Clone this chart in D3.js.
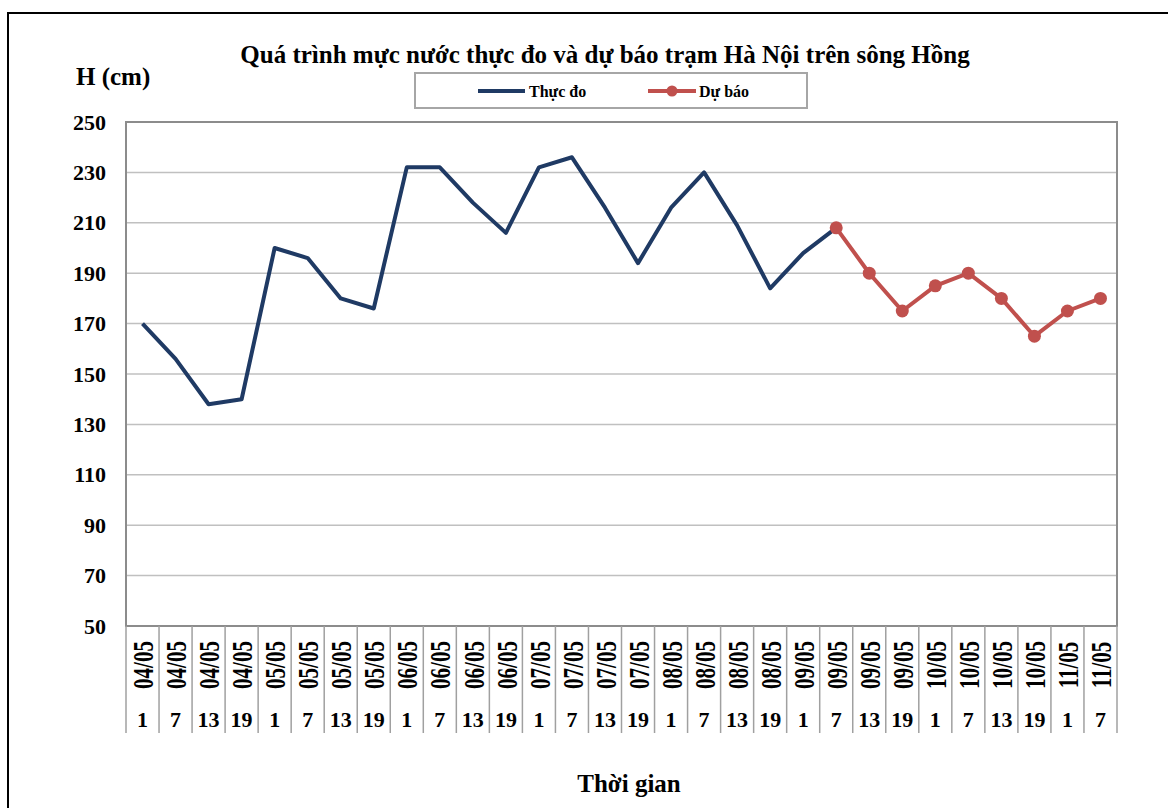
<!DOCTYPE html>
<html>
<head>
<meta charset="utf-8">
<script src="https://cdn.jsdelivr.net/npm/d3@7"></script>
<style>
  body { margin: 0; background: #fff; }
  text { font-family: "Times New Roman", "Liberation Serif", serif; font-weight: bold; fill: #000; }
</style>
</head>
<body>
<svg></svg>
<script>
const width = 1168;
const height = 808;

// data
const dates = ["04/05","04/05","04/05","04/05","05/05","05/05","05/05","05/05",
  "06/05","06/05","06/05","06/05","07/05","07/05","07/05","07/05",
  "08/05","08/05","08/05","08/05","09/05","09/05","09/05","09/05",
  "10/05","10/05","10/05","10/05","11/05","11/05"];
const hours = [1,7,13,19,1,7,13,19,1,7,13,19,1,7,13,19,1,7,13,19,1,7,13,19,1,7,13,19,1,7];
const observed = [170,156,138,140,200,196,180,176,232,232,218,206,232,236,216,194,216,230,209,184,198,208];
const forecastStart = 21;
const forecast = [208,190,175,185,190,180,165,175,180];
const yTicks = [50,70,90,110,130,150,170,190,210,230,250];

const svg = d3.select("svg")
  .attr("width", width)
  .attr("height", height);

// outer frame
svg.append("rect")
  .attr("x", 8).attr("y", 13)
  .attr("width", 1200).attr("height", 900)
  .attr("fill", "none")
  .attr("stroke", "#000")
  .attr("stroke-width", 2);

const x = d3.scaleBand()
  .domain(d3.range(dates.length))
  .range([126, 1117]);

const y = d3.scaleLinear()
  .domain([50, 250])
  .range([626, 122]);

const cx = i => x(i) + x.bandwidth() / 2;

// gridlines
svg.append("g")
  .selectAll("line")
  .data(yTicks.slice(1, -1))
  .enter().append("line")
  .attr("x1", 126).attr("x2", 1117)
  .attr("y1", d => y(d)).attr("y2", d => y(d))
  .attr("stroke", "#c0c0c0")
  .attr("stroke-width", 1.5);

// plot border
svg.append("rect")
  .attr("x", 126).attr("y", 122)
  .attr("width", 1117 - 126).attr("height", 626 - 122)
  .attr("fill", "none")
  .attr("stroke", "#8c8c8c")
  .attr("stroke-width", 2);

// y axis labels
const yAxis = svg.append("g")
  .attr("transform", "translate(126,0)")
  .call(d3.axisLeft(y).tickValues(yTicks).tickSize(0).tickPadding(20));
yAxis.select(".domain").remove();
yAxis.selectAll("text")
  .attr("font-size", 22)
  .attr("font-family", null);

// x category table
const sep = svg.append("g");
sep.selectAll("line")
  .data(d3.range(dates.length + 1))
  .enter().append("line")
  .attr("x1", d => 126 + d * x.step())
  .attr("x2", d => 126 + d * x.step())
  .attr("y1", 626).attr("y2", 733)
  .attr("stroke", "#a0a0a0")
  .attr("stroke-width", 1.5);

svg.append("g")
  .selectAll("text")
  .data(dates)
  .enter().append("text")
  .attr("transform", (d, i) => "translate(" + cx(i) + ",665) rotate(-90) scale(1,1.45)")
  .attr("text-anchor", "middle")
  .attr("dy", "0.35em")
  .attr("font-size", 21)
  .text(d => d);

svg.append("g")
  .selectAll("text")
  .data(hours)
  .enter().append("text")
  .attr("x", (d, i) => cx(i))
  .attr("y", 727)
  .attr("text-anchor", "middle")
  .attr("font-size", 22)
  .text(d => d);

// series
const line = d3.line()
  .x(d => cx(d.i))
  .y(d => y(d.v));

const obsPts = observed.map((v, i) => ({ i: i, v: v }));
const fcPts = forecast.map((v, i) => ({ i: i + forecastStart, v: v }));

svg.append("path")
  .datum(obsPts)
  .attr("d", line)
  .attr("fill", "none")
  .attr("stroke", "#1f3a64")
  .attr("stroke-width", 4)
  .attr("stroke-linejoin", "round");

svg.append("path")
  .datum(fcPts)
  .attr("d", line)
  .attr("fill", "none")
  .attr("stroke", "#c0504d")
  .attr("stroke-width", 4)
  .attr("stroke-linejoin", "round");

svg.append("g")
  .selectAll("circle")
  .data(fcPts)
  .enter().append("circle")
  .attr("cx", d => cx(d.i))
  .attr("cy", d => y(d.v))
  .attr("r", 6.5)
  .attr("fill", "#c0504d");

// titles
svg.append("text")
  .attr("x", 605).attr("y", 63)
  .attr("text-anchor", "middle")
  .attr("font-size", 25)
  .text("Quá trình mực nước thực đo và dự báo trạm Hà Nội trên sông Hồng");

svg.append("text")
  .attr("x", 76).attr("y", 85)
  .attr("font-size", 25)
  .text("H (cm)");

svg.append("text")
  .attr("x", 629).attr("y", 792)
  .attr("text-anchor", "middle")
  .attr("font-size", 25)
  .text("Thời gian");

// legend
const lg = svg.append("g");
lg.append("rect")
  .attr("x", 415).attr("y", 73)
  .attr("width", 392).attr("height", 35)
  .attr("fill", "#fff")
  .attr("stroke", "#a6a6a6")
  .attr("stroke-width", 2);
lg.append("line")
  .attr("x1", 478).attr("x2", 525).attr("y1", 91).attr("y2", 91)
  .attr("stroke", "#1f3a64").attr("stroke-width", 4);
lg.append("text")
  .attr("x", 529).attr("y", 97)
  .attr("font-size", 16)
  .text("Thực đo");
lg.append("line")
  .attr("x1", 648).attr("x2", 696).attr("y1", 91).attr("y2", 91)
  .attr("stroke", "#c0504d").attr("stroke-width", 4);
lg.append("circle")
  .attr("cx", 672).attr("cy", 91).attr("r", 5.5)
  .attr("fill", "#c0504d");
lg.append("text")
  .attr("x", 699).attr("y", 97)
  .attr("font-size", 16)
  .text("Dự báo");
</script>
</body>
</html>
